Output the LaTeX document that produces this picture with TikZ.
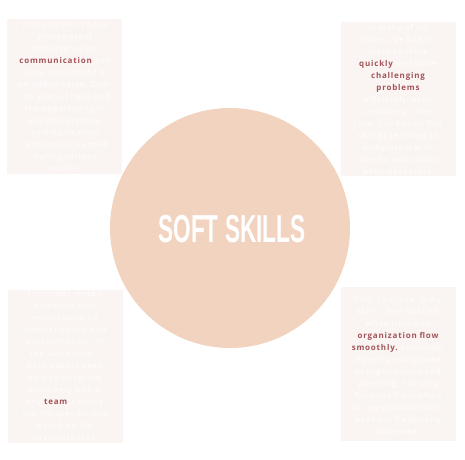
\documentclass[tikz,border=0pt]{standalone}
\usepackage{fontspec}
\usepackage{graphicx}
\setmainfont{Open Sans}
\newfontfamily\blurbfont[LetterSpace=10]{Open Sans}
\newfontfamily\titlefont{Liberation Sans}
\definecolor{peach}{HTML}{F2D3C0}
\definecolor{paper}{HTML}{FAF5F2}
\definecolor{rosewood}{HTML}{A3545A}
\newcommand{\hl}[1]{\textcolor{rosewood}{\bfseries #1}}

\begin{document}
\begin{tikzpicture}[x=1pt,y=-1pt,
  card/.style={fill=paper,draw=none},
  blurb/.style={text=white,align=center,anchor=north,inner sep=0pt,
    font=\blurbfont\fontsize{8}{12}\selectfont}]
  \useasboundingbox (0,0) rectangle (465,459);
  % corner cards
  \fill[card] (7,19) rectangle (122,174);
  \fill[card] (341,22) rectangle (456,176);
  \fill[card] (8,290) rectangle (123,443);
  \fill[card] (341,287) rectangle (456,441);
  % centre disc
  \fill[peach] (230,228) circle (120);
  \node[text=white] (title) at (232,229)
    {\scalebox{0.58}[1]{\titlefont\bfseries\fontsize{39}{39}\selectfont SOFT SKILLS}};
  % texts
  \node[blurb] (career) at (65,21) {In my career, I have\\placed great\\importance on\\
    \hl{communication} and\\have considered it\\an added value. Over\\
    the years, I have had\\the opportunity to\\put into practice\\communication\\
    techniques learned\\during various\\studies.};
  \node[blurb] (roles) at (398,24) {In many of my\\roles, I've had to\\learn to think\\
    \hl{quickly} and solve\\\hl{challenging}\\\hl{problems}\\efficiently, even\\
    creatively. Over\\time, I've honed this\\skill by learning to\\integrate it with\\
    careful evaluation\\when necessary.};
  \node[blurb] (myself) at (65,290) {I consider myself\\someone who\\enjoys working\\
    independently and\\autonomously. At\\the same time, I\\have always been\\
    able to integrate\\positively within\\any \hl{team}, carving\\out my specific role\\
    based on the\\circumstances.};
  \node[blurb] (skill) at (398,296) {This, I believe, is my\\skill. I feel fulfilled\\
    when time and\\\hl{organization flow}\\\hl{smoothly.} I consider\\
    myself predisposed\\to organization and\\planning, not only\\for myself but often\\
    for my collaborators,\\as I have frequently\\observed.};
\end{tikzpicture}
\end{document}
